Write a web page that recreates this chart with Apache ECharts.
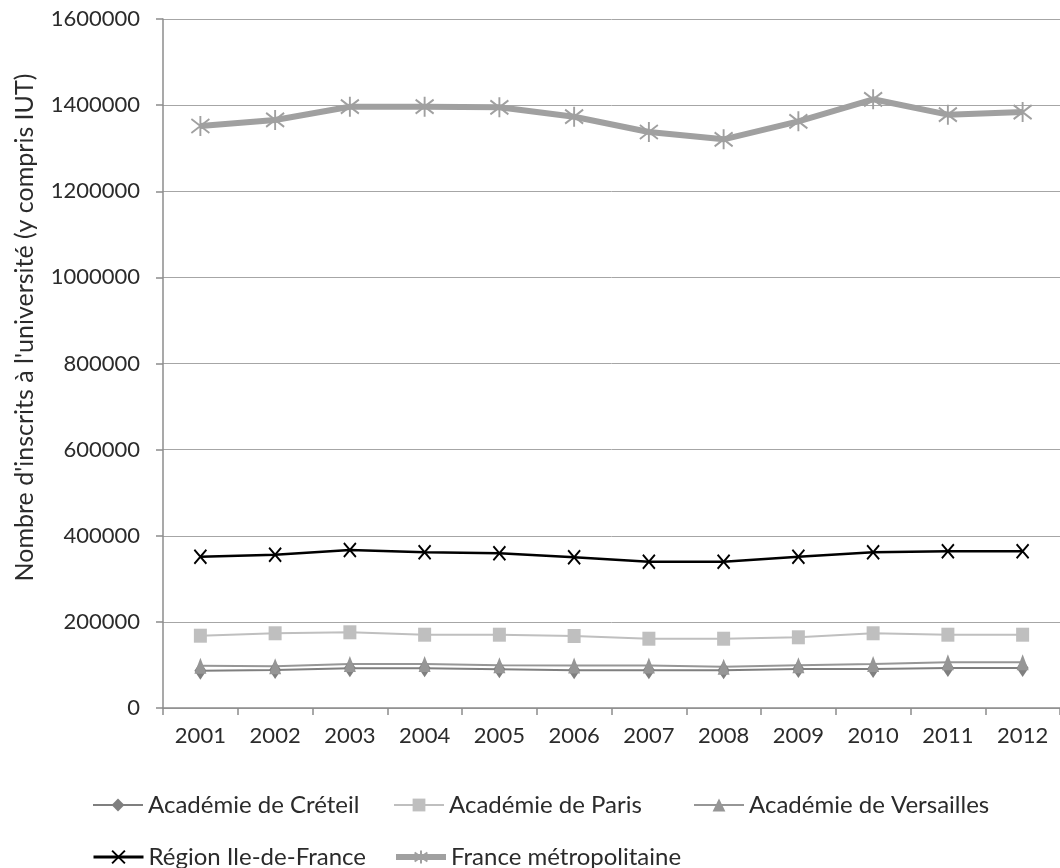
<!DOCTYPE html>
<html>
<head>
<meta charset="utf-8">
<script src="https://cdn.jsdelivr.net/npm/echarts@6/dist/echarts.min.js"></script>
<style>
  html, body { margin: 0; padding: 0; background: #fff; }
  #chart { width: 1060px; height: 868px; }
</style>
</head>
<body>
<div id="chart"></div>
<script>
// years on the x axis
var years = ['2001', '2002', '2003', '2004', '2005', '2006', '2007', '2008', '2009', '2010', '2011', '2012'];

// values
var creteil = [86600, 88200, 92100, 92100, 89800, 87500, 87500, 87500, 90500, 90500, 92900, 92900];
var paris = [167900, 173500, 175800, 170200, 170200, 167200, 160900, 160900, 164200, 173500, 170200, 170200];
var versailles = [98200, 97000, 102200, 102200, 99500, 98500, 98500, 95900, 99500, 102200, 106100, 106100];
var idf = [351400, 356000, 366900, 361600, 359200, 350000, 339800, 339800, 351400, 361600, 363900, 363900];
var france = [1351500, 1365500, 1396300, 1396300, 1395000, 1373100, 1337600, 1320600, 1362400, 1413500, 1377800, 1384000];

var yTicks = { min: 0, max: 1600000, step: 200000 };

var fontName = 'Lato';
var textColor = '#2b2b2b';
var xSymbol = 'path://M0,0L10,10M10,0L0,10';
var starSymbol = 'path://M5,0L5,10M0,1.5L10,8.5M0,8.5L10,1.5';

function lineSerie(name, data, color, width, symbol, size, stroked) {
    var itemStyle = stroked
        ? { color: 'rgba(0,0,0,0)', borderColor: color, borderWidth: 2 }
        : { color: color };
    return {
        name: name,
        type: 'line',
        data: data,
        symbol: symbol,
        symbolSize: size,
        showAllSymbol: true,
        lineStyle: { color: color, width: width },
        itemStyle: itemStyle,
        emphasis: { disabled: true },
        animation: false
    };
}

// one legend per entry so the columns line up like the original
function legendAt(name, left, top, lineWidth) {
    return {
        left: left, top: top,
        itemWidth: 50, itemHeight: 16,
        lineStyle: { width: lineWidth },
        textStyle: { fontFamily: fontName, fontSize: 24, color: textColor },
        data: [name]
    };
}

var myChart = echarts.init(document.getElementById('chart'));

var option = {
    backgroundColor: '#fff',
    textStyle: { fontFamily: fontName },
    grid: { left: 163, top: 19, bottom: 160, right: -6, containLabel: false },
    legend: [
        legendAt('Académie de Créteil', 87, 788, 2),
        legendAt('Académie de Paris', 388, 788, 2),
        legendAt('Académie de Versailles', 688, 788, 2),
        legendAt('Région Ile-de-France', 87, 840, 3),
        legendAt('France métropolitaine', 388, 840, 6)
    ],
    xAxis: {
        type: 'category',
        data: years,
        boundaryGap: true,
        axisLine: { lineStyle: { color: '#8c8c8c', width: 1.5 } },
        axisTick: { show: true, length: 7, lineStyle: { color: '#8c8c8c', width: 1.5 } },
        axisLabel: { fontFamily: fontName, fontSize: 22, color: textColor, margin: 17 }
    },
    yAxis: {
        type: 'value',
        min: yTicks.min,
        max: yTicks.max,
        interval: yTicks.step,
        name: "Nombre d'inscrits à l'université (y compris IUT)",
        nameLocation: 'middle',
        nameGap: 126,
        nameTextStyle: { fontFamily: fontName, fontSize: 25, color: textColor, padding: [0, 0, 0, 72] },
        axisLine: { show: true, lineStyle: { color: '#8c8c8c', width: 1.5 } },
        axisTick: { show: true, length: 7, lineStyle: { color: '#8c8c8c', width: 1.5 } },
        axisLabel: {
            fontFamily: fontName, fontSize: 22, color: textColor, margin: 23,
            formatter: function (v) { return String(v); }
        },
        splitLine: { lineStyle: { color: '#a6a6a6', width: 1 } }
    },
    series: [
        lineSerie('Académie de Créteil', creteil, '#7f7f7f', 2, 'diamond', [12, 18], false),
        lineSerie('Académie de Paris', paris, '#bfbfbf', 2, 'rect', [13, 14], false),
        lineSerie('Académie de Versailles', versailles, '#969696', 2, 'triangle', [12, 16], false),
        lineSerie('Région Ile-de-France', idf, '#000000', 2.5, xSymbol, [12, 14], true),
        lineSerie('France métropolitaine', france, '#a0a0a0', 6, starSymbol, [18, 20], true)
    ]
};
myChart.setOption(option);
</script>
</body>
</html>
